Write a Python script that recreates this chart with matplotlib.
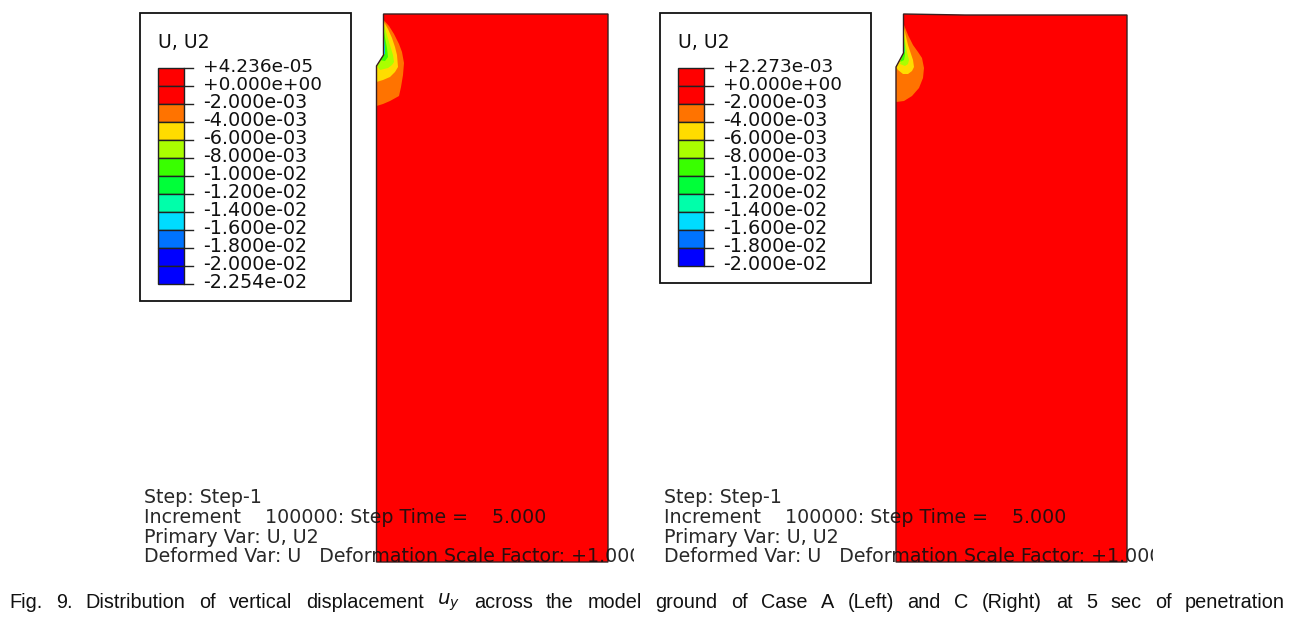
import matplotlib
matplotlib.use("Agg")
from matplotlib import pyplot as plt
from matplotlib.patches import Rectangle, Polygon

labels_a = ["+4.236e-05", "+0.000e+00", "-2.000e-03", "-4.000e-03", "-6.000e-03", "-8.000e-03", "-1.000e-02",
            "-1.200e-02", "-1.400e-02", "-1.600e-02", "-1.800e-02", "-2.000e-02", "-2.254e-02"]
labels_c = ["+2.273e-03", "+0.000e+00", "-2.000e-03", "-4.000e-03", "-6.000e-03", "-8.000e-03", "-1.000e-02",
            "-1.200e-02", "-1.400e-02", "-1.600e-02", "-1.800e-02", "-2.000e-02"]
colors_a = ["#ff0000", "#ff0000", "#ff7300", "#ffdc00", "#aaff00", "#39ff00", "#00ff39",
            "#00ffaa", "#00dcff", "#0073ff", "#0000ff", "#0000ff"]
colors_c = colors_a[:11]
info_lines = ["Step: Step-1", "Increment    100000: Step Time =    5.000", "Primary Var: U, U2",
              "Deformed Var: U   Deformation Scale Factor: +1.000e+00"]
caption = ("Fig. 9. Distribution of vertical displacement $\\mathit{u_y}$ across the model ground "
           "of Case A (Left) and C (Right) at 5 sec of penetration").split(" ")

# outlines of the ground and of the contour zones, in image pixels
ground_a = [(383.5, 14), (608, 14), (608, 562), (376.5, 562), (376.5, 66), (383.5, 55)]
zones_a = [
    ("#ff7300", [(383.5, 20), (389, 26), (394, 34), (399, 44), (402, 52), (404, 63), (403, 75), (401, 87), (399, 96),
                 (390, 101), (383, 104), (376.5, 106), (376.5, 66), (383.5, 55)]),
    ("#ffdc00", [(384, 22), (388, 29), (392, 38), (395, 47), (397, 55), (398, 67), (395, 72), (390, 77), (383, 80),
                 (376.5, 82), (376.5, 66), (383.5, 55)]),
    ("#aaff00", [(384, 25), (389, 42), (393, 55), (394, 62), (392, 65), (388, 68), (380, 70), (377, 66), (383.5, 55)]),
    ("#39ff00", [(384, 32), (387, 48), (388, 57), (385, 61), (380, 60), (383.5, 55)]),
    ("#00dcff", [(384, 38), (385, 48), (385, 54), (383.5, 55)]),
]
ground_c = [(903.5, 14), (965, 15), (1127, 15), (1127, 562), (896, 562), (896, 67), (903.5, 53)]
zones_c = [
    ("#ff7300", [(904, 25), (908, 35), (913, 45), (918, 52), (922, 58), (924, 68), (923, 78), (919, 88), (912, 96),
                 (904, 101), (896, 102), (896, 67), (903.5, 53)]),
    ("#ffdc00", [(904, 28), (908, 45), (913, 60), (914, 67), (912, 71), (908, 74), (903, 74), (898, 70), (896, 67), (903.5, 53)]),
    ("#aaff00", [(904, 35), (907, 52), (909, 60), (908, 64), (905, 66), (900, 64), (903.5, 53)]),
    ("#39ff00", [(904, 38), (905, 55), (904, 60), (900, 62), (903.5, 53)]),
    ("#00dcff", [(904, 42), (904.5, 52), (903.5, 53)]),
]

fig = plt.figure(figsize=(13.04, 6.18), dpi=100)
ax = fig.add_axes([0, 0, 1, 1])
ax.set_xlim(0, 1304)
ax.set_ylim(618, 0)
ax.axis("off")

def draw_ground(ground, zones):
    ax.add_patch(Polygon(ground, closed=True, facecolor="#ff0000", edgecolor="none", zorder=2))
    for color, pts in zones:
        ax.add_patch(Polygon(pts, closed=True, facecolor=color, edgecolor="none", zorder=3))
    ax.add_patch(Polygon(ground, closed=True, fill=False, edgecolor="#3a2020", lw=1.0, zorder=4))

def draw_legend(x0, box_bottom, labels, colors):
    ax.add_patch(Rectangle((x0, 13), 211, box_bottom - 13, facecolor="white", edgecolor="#111111", lw=1.3, zorder=1))
    ax.text(x0 + 18, 43, "U, U2", fontsize=13.6, color="#111111", va="center", zorder=6)
    for i, color in enumerate(colors):
        y = 67.5 + i * 18
        ax.add_patch(Rectangle((x0 + 18, y), 26, 18, facecolor=color, edgecolor="#222222", lw=1.0, zorder=5))
    for i, label in enumerate(labels):
        y = 67.5 + i * 18
        ax.plot([x0 + 44, x0 + 53], [y, y], color="#222222", lw=1.0, zorder=5)
        if label[0] == "+":
            ax.text(x0 + 63, y - 0.5, label, fontsize=13.3, color="#111111", va="center", zorder=6)
        else:
            ax.text(x0 + 63, y - 0.5, label, fontsize=13.8, color="#111111", va="center", zorder=6)

def draw_info(x0, clip_x):
    clip = Rectangle((0, 0), clip_x, 618, transform=ax.transData)
    for i, line in enumerate(info_lines):
        t = ax.text(x0, 497.5 + i * 19.8, line, fontsize=13.7, color="#111111", va="center", zorder=6, alpha=0.9)
        t.set_clip_path(clip)
        t.set_clip_on(True)

def draw_caption(x0, x1, y):
    items = [ax.text(0, y, w, fontsize=14.3, family="Liberation Sans", color="#111111", va="center",
                     math_fontfamily="dejavusans") for w in caption]
    fig.canvas.draw()
    r = fig.canvas.get_renderer()
    widths = [t.get_window_extent(r).width for t in items]
    gap = (x1 - x0 - sum(widths)) / (len(items) - 1)
    x = x0
    for t, w in zip(items, widths):
        t.set_x(x)
        x += w + gap

draw_ground(ground_a, zones_a)
draw_ground(ground_c, zones_c)
draw_legend(140, 301, labels_a, colors_a)
draw_legend(660, 283, labels_c, colors_c)
draw_info(144, 634)
draw_info(664, 1153)
draw_caption(9, 1285, 602)

fig.savefig("out.png", dpi=100)
